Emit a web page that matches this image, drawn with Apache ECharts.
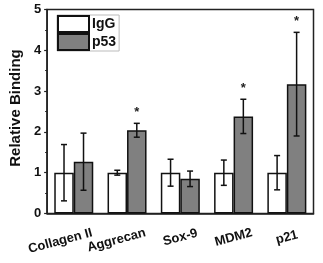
<!DOCTYPE html>
<html>
<head>
<meta charset="utf-8">
<script src="https://cdn.jsdelivr.net/npm/echarts@6/dist/echarts.min.js"></script>
<style>
  html, body { margin: 0; padding: 0; background: #fff; }
  #chart { width: 323px; height: 263px; }
</style>
</head>
<body>
<div id="chart"></div>
<script>
let categories = ['Collagen II', 'Aggrecan', 'Sox-9', 'MDM2', 'p21'];
let iggMean = [1, 1, 1, 1, 1];
let iggErr = [0.69, 0.06, 0.33, 0.31, 0.42];
let p53Mean = [1.27, 2.04, 0.85, 2.38, 3.17];
let p53Err = [0.70, 0.17, 0.19, 0.42, 1.27];
let significant = [false, true, false, true, true];
let yTicks = [0, 1, 2, 3, 4, 5];

let font = 'Liberation Sans, Arial, sans-serif';
let barW = 19.5;
// long labels sit a little left of their group in the original
let labelShift = [28, 22, 0, 0, 0];

// error bars (+ asterisk) drawn on top of the bars
function errSeries(means, errs, offset, stars) {
    return {
        type: 'custom',
        z: 5,
        data: means.map((m, i) => [i, m, errs[i], stars && significant[i] ? 1 : 0]),
        encode: { x: 0, y: 1 },
        renderItem: (params, api) => {
            let i = api.value(0), m = api.value(1), e = api.value(2);
            let hi = api.coord([i, m + e]);
            let lo = api.coord([i, m - e]);
            let x = hi[0] + offset;
            let cap = 3;
            let st = { stroke: '#111', lineWidth: 1.5 };
            let children = [
                { type: 'line', shape: { x1: x, y1: hi[1], x2: x, y2: lo[1] }, style: st },
                { type: 'line', shape: { x1: x - cap, y1: hi[1], x2: x + cap, y2: hi[1] }, style: st },
                { type: 'line', shape: { x1: x - cap, y1: lo[1], x2: x + cap, y2: lo[1] }, style: st }
            ];
            if (api.value(3)) {
                children.push({
                    type: 'text',
                    style: {
                        x: x, y: hi[1] - 11, text: '*',
                        align: 'center', verticalAlign: 'middle',
                        font: 'bold 13px ' + font, fill: '#222'
                    }
                });
            }
            return { type: 'group', children: children };
        }
    };
}

let rich = {};
labelShift.forEach((s, i) => {
    rich['l' + i] = {
        fontFamily: font, fontWeight: 'bold', fontSize: 13, color: '#111',
        padding: [0, s, 0, 0]
    };
});

let option = {
    animation: false,
    grid: {
        left: 39.5,
        right: 9.5,
        top: 9.5,
        bottom: 49.5,
        show: true,
        borderColor: '#222',
        borderWidth: 1.5
    },
    legend: {
        data: ['IgG', 'p53'],
        orient: 'vertical',
        left: 57,
        top: 15,
        icon: 'rect',
        itemWidth: 31,
        itemHeight: 16,
        itemGap: 0,
        padding: [0, 3, 0, 0],
        backgroundColor: '#fff',
        borderColor: '#bbb',
        borderWidth: 1,
        itemStyle: { borderWidth: 2, borderColor: '#111' },
        textStyle: { fontFamily: font, fontWeight: 'bold', fontSize: 14, color: '#111', padding: [0, 0, 0, -2] }
    },
    xAxis: {
        type: 'category',
        data: categories,
        axisTick: { show: false },
        axisLine: { lineStyle: { color: '#222', width: 1.5 } },
        axisLabel: {
            interval: 0,
            rotate: 15,
            align: 'center',
            margin: 24,
            formatter: (v, i) => '{l' + i + '|' + v + '}',
            rich: rich
        }
    },
    yAxis: {
        type: 'value',
        min: yTicks[0],
        max: yTicks[yTicks.length - 1],
        interval: 1,
        name: 'Relative Binding',
        nameLocation: 'middle',
        nameGap: 19,
        nameTextStyle: { fontFamily: font, fontWeight: 'bold', fontSize: 15, color: '#111', padding: [0, 0, 0, 7] },
        axisLine: { show: true, lineStyle: { color: '#222', width: 1.5 } },
        axisTick: { show: true, length: 3, lineStyle: { color: '#222', width: 1.2 } },
        minorTick: { show: true, splitNumber: 2, length: 2, lineStyle: { color: '#222' } },
        splitLine: { show: false },
        axisLabel: {
            margin: 6,
            fontFamily: font,
            fontWeight: 'bold',
            fontSize: 13,
            color: '#111'
        }
    },
    series: [
        {
            name: 'IgG',
            type: 'bar',
            data: iggMean,
            barWidth: barW,
            barGap: 0,
            itemStyle: { color: '#fff', borderColor: '#111', borderWidth: 1.5 }
        },
        {
            name: 'p53',
            type: 'bar',
            data: p53Mean,
            barWidth: barW,
            barGap: 0,
            itemStyle: { color: '#808080', borderColor: '#111', borderWidth: 1.5 }
        },
        errSeries(iggMean, iggErr, -barW / 2, false),
        errSeries(p53Mean, p53Err, barW / 2, true)
    ]
};

let mychart = echarts.init(document.getElementById('chart'));
mychart.setOption(option);
</script>
</body>
</html>
